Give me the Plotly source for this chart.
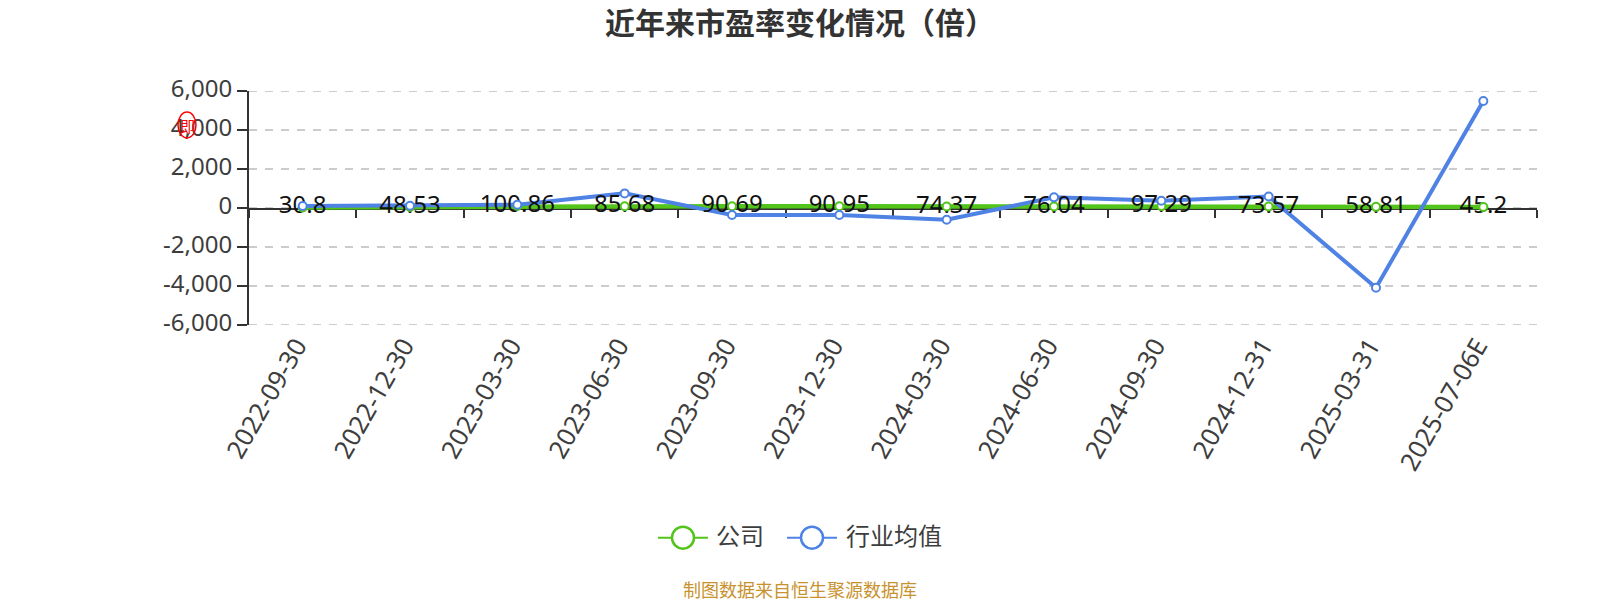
import plotly.graph_objects as go

dates = ["2022-09-30", "2022-12-30", "2023-03-30", "2023-06-30", "2023-09-30", "2023-12-30",
         "2024-03-30", "2024-06-30", "2024-09-30", "2024-12-31", "2025-03-31", "2025-07-06E"]
company = [30.8, 48.53, 100.86, 85.68, 90.69, 90.95, 74.37, 76.04, 97.29, 73.57, 58.81, 45.2]
industry = [100, 118, 170, 750, -360, -355, -600, 545, 375, 590, -4090, 5490]
y_ticks = [-6000, -4000, -2000, 0, 2000, 4000, 6000]
y_labels = ["-6,000", "-4,000", "-2,000", "0", "2,000", "4,000", "6,000"]
series_names = ["公司", "行业均值"]

GREEN = "#52c41a"
BLUE = "#4e82e4"
INK = "#3d3d3d"
LATIN = "'Noto Sans', 'Noto Sans CJK SC', sans-serif"
CJK = "'Noto Sans CJK SC', sans-serif"

W, H = 1600, 600
L, R, T, B = 249, 1537, 91, 325
px = lambda v: (v - L) / (R - L)
py = lambda v: (B - v) / (B - T)


def line_trace(values, name, color, axis, width):
    return go.Scatter(x=dates, y=values, name=name, mode="lines", xaxis=axis, yaxis="y",
                      line=dict(color=color, width=width), cliponaxis=False)


def marker_trace(values, name, color):
    return go.Scatter(x=dates, y=values, name=name, mode="markers", xaxis="x2", yaxis="y",
                      marker=dict(size=8, color="white", line=dict(color=color, width=2)), cliponaxis=False)


fig = go.Figure()
fig.add_trace(line_trace(company, series_names[0], GREEN, "x", 4.5))
fig.add_trace(line_trace(industry, series_names[1], BLUE, "x2", 4))
fig.add_trace(go.Scatter(x=dates, y=company, name=series_names[0], mode="text", xaxis="x2", yaxis="y",
                         text=[str(v) for v in company], textposition="middle center",
                         textfont=dict(size=24, color="#111111", family=LATIN), cliponaxis=False))
fig.add_trace(marker_trace(company, series_names[0], GREEN))
fig.add_trace(marker_trace(industry, series_names[1], BLUE))


def legend_key(center, color):
    cy = py(537.7)
    return [
        dict(type="line", xref="paper", yref="paper", x0=px(center - 25), x1=px(center + 25), y0=cy, y1=cy,
             line=dict(color=color, width=2)),
        dict(type="circle", xref="paper", yref="paper", x0=px(center - 11), x1=px(center + 11),
             y0=py(537.7 + 11), y1=py(537.7 - 11), fillcolor="white", line=dict(color=color, width=2.5)),
    ]


edge_grid = [dict(type="line", xref="paper", yref="y", x0=0, x1=1, y0=v, y1=v, layer="below",
                  line=dict(color="#cccccc", width=2, dash="8px,8px")) for v in (y_ticks[0], y_ticks[-1])]

fig.update_layout(
    width=W, height=H, autosize=False,
    margin=dict(l=L, r=W - R, t=T, b=H - B, pad=0),
    paper_bgcolor="white", plot_bgcolor="white",
    font=dict(family=LATIN, color=INK),
    title=dict(text="<b>近年来市盈率变化情况（倍）</b>", x=0.5, xanchor="center", y=1 - 23 / H, yanchor="middle",
               font=dict(size=30, color="#333333", family=CJK)),
    showlegend=False,
    xaxis=dict(type="category", categoryorder="array", categoryarray=dates, range=[-0.5, 11.5],
               showgrid=False, zeroline=False, showline=False, ticks="",
               tickangle=-60, ticklabelstandoff=0, ticklabelshift=-6, tickfont=dict(size=25.5, color=INK)),
    xaxis2=dict(overlaying="x", anchor="free", position=py(208.7), side="bottom", type="category",
                categoryorder="array", categoryarray=dates, range=[-0.5, 11.5], tickson="boundaries",
                ticks="outside", ticklen=8, tickwidth=2, tickcolor="#333333", layer="below traces",
                showticklabels=False, showline=True, linecolor="#333333", linewidth=2, showgrid=False,
                zeroline=False),
    yaxis=dict(range=[y_ticks[0], y_ticks[-1]], tickvals=y_ticks, ticktext=y_labels, ticks="outside", ticklen=10,
               tickwidth=2, tickcolor="#333333", showline=True, linecolor="#333333", linewidth=2,
               showgrid=True, gridcolor="#cccccc", gridwidth=2, griddash="8px,8px", zeroline=False,
               ticklabelshift=-2, tickfont=dict(size=24, color=INK)),
    annotations=[
        dict(text="制图数据来自恒生聚源数据库", xref="paper", yref="paper", x=px(800), y=py(589),
             xanchor="center", yanchor="middle", showarrow=False, borderpad=0,
             font=dict(size=18, color="#c8922e", family=CJK)),
        dict(text="即", xref="paper", yref="paper", x=px(187), y=py(125), xanchor="center", yanchor="middle",
             showarrow=False, font=dict(size=15, color="#ff0000", family=CJK)),
        dict(text=series_names[0], xref="paper", yref="paper", x=px(714), y=py(534), xanchor="left", yanchor="middle",
             showarrow=False, font=dict(size=24, color=INK, family=CJK)),
        dict(text=series_names[1], xref="paper", yref="paper", x=px(844), y=py(534), xanchor="left", yanchor="middle",
             showarrow=False, font=dict(size=24, color=INK, family=CJK)),
    ],
    shapes=edge_grid + legend_key(683, GREEN) + legend_key(812, BLUE) + [
        dict(type="circle", xref="paper", yref="paper", x0=px(178), x1=px(196), y0=py(138), y1=py(112),
             line=dict(color="#ff0000", width=1.5)),
    ],
)
fig.write_html("out.html", post_script="document.body.style.margin='0';", config={"displayModeBar": False})
